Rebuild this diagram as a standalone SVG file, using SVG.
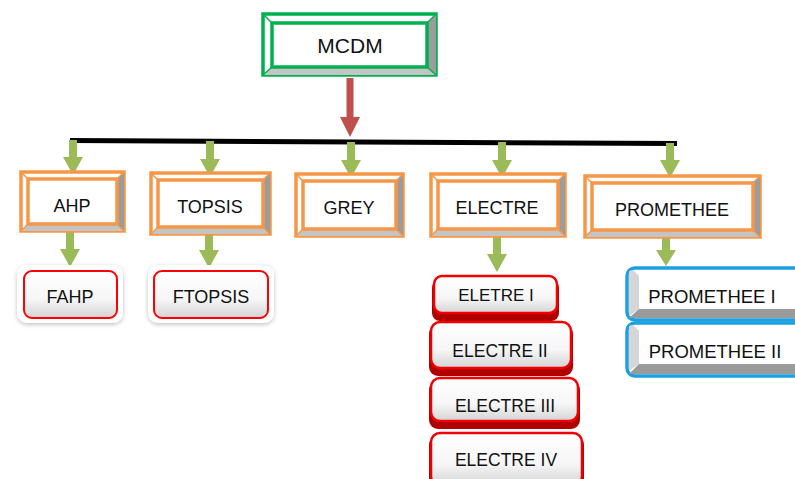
<svg xmlns="http://www.w3.org/2000/svg" width="795" height="479" viewBox="0 0 795 479">
<defs>
<style>
text{font-family:"Liberation Sans",Arial,sans-serif;font-size:18px;fill:#111;text-anchor:middle}
.ob{fill:#fff;stroke:#F79646;stroke-width:3.5}
.gb{fill:#fff;stroke:#00B050;stroke-width:3.5}
.bvr{fill:#9C9C9C}
.bvb{fill:#C4C4C4}
.ocl{stroke:#F79646;stroke-width:1.5}
.gcl{stroke:#00B050;stroke-width:1.5}
.ga{fill:#9BBB59}
.ra{fill:#C0504D}
.frame{fill:#fff;filter:url(#sh)}
.rin{fill:url(#gw);stroke:#FF0000;stroke-width:2}
.eback{fill:#B00000}
.efront{fill:url(#gw);stroke:#F00000;stroke-width:2.5}
.pb{fill:#fff;stroke:#1BA1E2;stroke-width:3.5}
.pl{fill:#D6D6D6}
.pbot{fill:#9A9A9A}
</style>
<linearGradient id="gw" x1="0" y1="0" x2="0" y2="1">
<stop offset="0" stop-color="#ffffff"/>
<stop offset="0.6" stop-color="#f6f6f6"/>
<stop offset="1" stop-color="#d4d4d4"/>
</linearGradient>
<filter id="sh" x="-20%" y="-20%" width="140%" height="150%">
<feDropShadow dx="0" dy="1.5" stdDeviation="2" flood-color="#000" flood-opacity="0.25"/>
</filter>
</defs>

<g id="connectors">
<polygon points="70,138 677,141 677,146 70,143" fill="#000"/>
<path class="ra" d="M346.5,78 H353.5 V117 H360 L350,137 L340,117 H346.5 Z"/>
<path class="ga" d="M69,140 H77 V157 H83 L73,175 L63,157 H69 Z"/>
<path class="ga" d="M206,141 H214 V159 H220 L210,177 L200,159 H206 Z"/>
<path class="ga" d="M347,142 H355 V160 H361 L351,178 L341,160 H347 Z"/>
<path class="ga" d="M498,142 H506 V160 H512 L502,178 L492,160 H498 Z"/>
<path class="ga" d="M666,143 H674 V160 H680 L670,178 L660,160 H666 Z"/>
<path class="ga" d="M66,232 H74 V249 H80 L70,267 L60,249 H66 Z"/>
<path class="ga" d="M205,234 H213 V250 H219 L209,268 L199,250 H205 Z"/>
<path class="ga" d="M493,237 H501 V254 H507 L497,272 L487,254 H493 Z"/>
<path class="ga" d="M662,238 H670 V250 H676 L666,266 L656,250 H662 Z"/>
</g>

<g id="mcdm">
<rect class="gb" x="263" y="14" width="173" height="61"/>
<polygon class="bvr" points="436,14 436,75 427,67 427,23"/>
<polygon class="bvb" points="263,75 436,75 427,67 272,67"/>
<line class="gcl" x1="263" y1="14" x2="272" y2="23"/><line class="gcl" x1="436" y1="14" x2="427" y2="23"/><line class="gcl" x1="263" y1="75" x2="272" y2="67"/><line class="gcl" x1="436" y1="75" x2="427" y2="67"/>
<rect class="gb" x="272" y="23" width="155" height="44"/>
<text x="350" y="53" style="font-size:21px">MCDM</text>
</g>

<g id="ahp">
<rect class="ob" x="21" y="172" width="103" height="59"/>
<polygon class="bvr" points="124,172 124,231 117,224 117,179"/>
<polygon class="bvb" points="21,231 124,231 117,224 28,224"/>
<line class="ocl" x1="21" y1="172" x2="28" y2="179"/><line class="ocl" x1="124" y1="172" x2="117" y2="179"/><line class="ocl" x1="21" y1="231" x2="28" y2="224"/><line class="ocl" x1="124" y1="231" x2="117" y2="224"/>
<rect class="ob" x="28" y="179" width="89" height="45"/>
<text x="72" y="212">AHP</text>
</g>

<g id="topsis">
<rect class="ob" x="151" y="173" width="119" height="61"/>
<polygon class="bvr" points="270,173 270,234 263,227 263,180"/>
<polygon class="bvb" points="151,234 270,234 263,227 158,227"/>
<line class="ocl" x1="151" y1="173" x2="158" y2="180"/><line class="ocl" x1="270" y1="173" x2="263" y2="180"/><line class="ocl" x1="151" y1="234" x2="158" y2="227"/><line class="ocl" x1="270" y1="234" x2="263" y2="227"/>
<rect class="ob" x="158" y="180" width="105" height="47"/>
<text x="210" y="213">TOPSIS</text>
</g>

<g id="grey">
<rect class="ob" x="296" y="174" width="107" height="62"/>
<polygon class="bvr" points="403,174 403,236 396,229 396,181"/>
<polygon class="bvb" points="296,236 403,236 396,229 303,229"/>
<line class="ocl" x1="296" y1="174" x2="303" y2="181"/><line class="ocl" x1="403" y1="174" x2="396" y2="181"/><line class="ocl" x1="296" y1="236" x2="303" y2="229"/><line class="ocl" x1="403" y1="236" x2="396" y2="229"/>
<rect class="ob" x="303" y="181" width="93" height="48"/>
<text x="349" y="214">GREY</text>
</g>

<g id="electre">
<rect class="ob" x="431" y="174" width="134" height="62"/>
<polygon class="bvr" points="565,174 565,236 558,229 558,181"/>
<polygon class="bvb" points="431,236 565,236 558,229 438,229"/>
<line class="ocl" x1="431" y1="174" x2="438" y2="181"/><line class="ocl" x1="565" y1="174" x2="558" y2="181"/><line class="ocl" x1="431" y1="236" x2="438" y2="229"/><line class="ocl" x1="565" y1="236" x2="558" y2="229"/>
<rect class="ob" x="438" y="181" width="120" height="48"/>
<text x="497" y="214">ELECTRE</text>
</g>

<g id="promethee">
<rect class="ob" x="585" y="176" width="175" height="61"/>
<polygon class="bvr" points="760,176 760,237 753,230 753,183"/>
<polygon class="bvb" points="585,237 760,237 753,230 592,230"/>
<line class="ocl" x1="585" y1="176" x2="592" y2="183"/><line class="ocl" x1="760" y1="176" x2="753" y2="183"/><line class="ocl" x1="585" y1="237" x2="592" y2="230"/><line class="ocl" x1="760" y1="237" x2="753" y2="230"/>
<rect class="ob" x="592" y="183" width="161" height="47"/>
<text x="672" y="216">PROMETHEE</text>
</g>

<g id="fahp">
<rect class="frame" x="17" y="265" width="106" height="58" rx="10"/>
<rect class="rin" x="24" y="271" width="93" height="47" rx="8"/>
<text x="70" y="303">FAHP</text>
</g>

<g id="ftopsis">
<rect class="frame" x="148" y="265" width="126" height="58" rx="10"/>
<rect class="rin" x="154" y="271" width="114" height="47" rx="8"/>
<text x="211" y="303">FTOPSIS</text>
</g>

<g id="eletre1">
<rect class="eback" x="432" y="280" width="127" height="41" rx="8"/>
<rect class="efront" x="434" y="276" width="123" height="37" rx="8"/>
<text x="496" y="301" style="font-size:17px">ELETRE I</text>
</g>

<g id="electre2">
<rect class="eback" x="429" y="325" width="144" height="51" rx="9"/>
<rect class="efront" x="431" y="322" width="140" height="46" rx="9"/>
<text x="500" y="357" style="font-size:17.5px">ELECTRE II</text>
</g>

<g id="electre3">
<rect class="eback" x="429" y="381" width="151" height="48" rx="9"/>
<rect class="efront" x="431" y="378" width="147" height="43" rx="9"/>
<text x="505" y="412" style="font-size:17.5px">ELECTRE III</text>
</g>

<g id="electre4">
<rect class="eback" x="429" y="436" width="155" height="55" rx="9"/>
<rect class="efront" x="431" y="433" width="151" height="52" rx="9"/>
<text x="506" y="466" style="font-size:17.5px">ELECTRE IV</text>
</g>

<g id="promethee1">
<rect class="pb" x="627" y="268" width="190" height="52" rx="8"/>
<path class="pl" d="M629,272 Q629,270 633,270 L639,276 V309 L629,316 Z"/>
<polygon class="pbot" points="629,318 639,309 800,309 800,318"/>
<text x="712" y="303" style="font-size:18.5px">PROMETHEE I</text>
</g>

<g id="promethee2">
<rect class="pb" x="627" y="323" width="190" height="53" rx="8"/>
<path class="pl" d="M629,327 Q629,325 633,325 L639,331 V364 L629,371 Z"/>
<polygon class="pbot" points="629,374 639,364 800,364 800,374"/>
<text x="715" y="358" style="font-size:18.5px">PROMETHEE II</text>
</g>
</svg>
